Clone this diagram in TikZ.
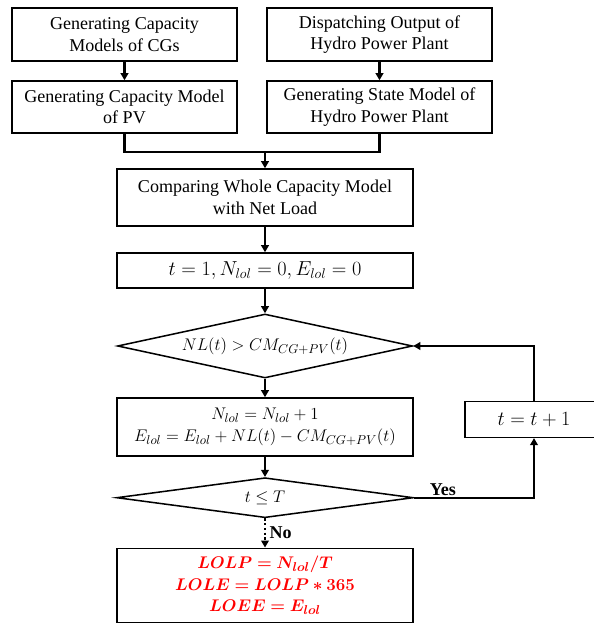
\documentclass[tikz,border=0pt]{standalone}
\usepackage{fontspec}
\setmainfont{Liberation Serif}
\usepackage{amsmath,bm}
\usepackage{tikz}
\usetikzlibrary{shapes.geometric, arrows.meta}
\tikzstyle{block}=[rectangle, draw, line width=1.3pt, align=center, inner sep=0pt, font=\fontsize{15.4}{18.5}\selectfont]
\tikzstyle{decision}=[diamond, draw, line width=1.3pt, inner sep=0pt, font=\fontsize{15.4}{18.5}\selectfont]
\tikzstyle{arr}=[line width=2pt, -{Triangle[length=6pt,width=6.5pt]}]
\tikzstyle{tag}=[font=\fontsize{15.4}{18.5}\selectfont\bfseries, inner sep=1pt]

\begin{document}
\begin{tikzpicture}
\useasboundingbox (0,0) rectangle (17.82,18.69);
\node[block, minimum width=6.75cm, minimum height=1.59cm] (cg) at (3.735,17.655) {Generating Capacity\\Models of CGs};
\node[block, minimum width=6.75cm, minimum height=1.59cm] (disp) at (11.385,17.655) {Dispatching Output of\\Hydro Power Plant};
\node[block, minimum width=6.75cm, minimum height=1.56cm] (pv) at (3.735,15.48) {Generating Capacity Model\\of PV};
\node[block, minimum width=6.75cm, minimum height=1.56cm] (hps) at (11.385,15.48) {Generating State Model of\\Hydro Power Plant};
\coordinate (merge) at (7.95,14.13);
\node[block, minimum width=8.88cm, minimum height=1.71cm] (whole) at (7.95,12.765) {Comparing Whole Capacity Model\\with Net Load};
\node[block, minimum width=8.88cm, minimum height=1.05cm, font=\fontsize{17}{20}\selectfont] (init) at (7.95,10.575) {$t=1, N_{lol}=0, E_{lol}=0$};
\node[decision, aspect=4.6, minimum width=8.85cm, minimum height=1.92cm] (cmp) at (7.95,8.31) {$NL(t)>CM_{CG+PV}(t)$};
\node[block, minimum width=8.88cm, minimum height=1.74cm] (upd) at (7.95,5.88) {$N_{lol}=N_{lol}+1$\\$E_{lol}=E_{lol}+NL(t)-CM_{CG+PV}(t)$};
\node[block, minimum width=4.14cm, minimum height=1.07cm, font=\fontsize{16.5}{20}\selectfont] (inc) at (16.02,6.105) {$t=t+1$};
\node[decision, aspect=7.4, minimum width=8.9cm, minimum height=1.2cm] (tlim) at (7.95,3.759) {$t\le T$};
\node[block, minimum width=8.88cm, minimum height=2.226cm, text=red] (res) at (7.95,1.128) {$\bm{LOLP=N_{lol}/T}$\\$\bm{LOLE=LOLP*365}$\\$\bm{LOEE=E_{lol}}$};

\draw[arr] (cg) -- (pv);
\draw[arr] (disp) -- (hps);
\draw[line width=2pt] (pv.south) |- (merge) -| (hps.south);
\draw[arr] (merge) -- (whole);
\draw[arr] (whole) -- (init);
\draw[arr] (init) -- (cmp);
\draw[arr] (cmp) -- (upd);
\draw[arr] (upd) -- (tlim);
\draw[arr] (tlim.east) -| node[tag, pos=0.12, above] {Yes} (inc.south);
\draw[arr] (inc.north) |- (cmp.east);
\draw[arr, dotted] (tlim) -- node[tag, right=2pt] {No} (res);
\end{tikzpicture}
\end{document}
